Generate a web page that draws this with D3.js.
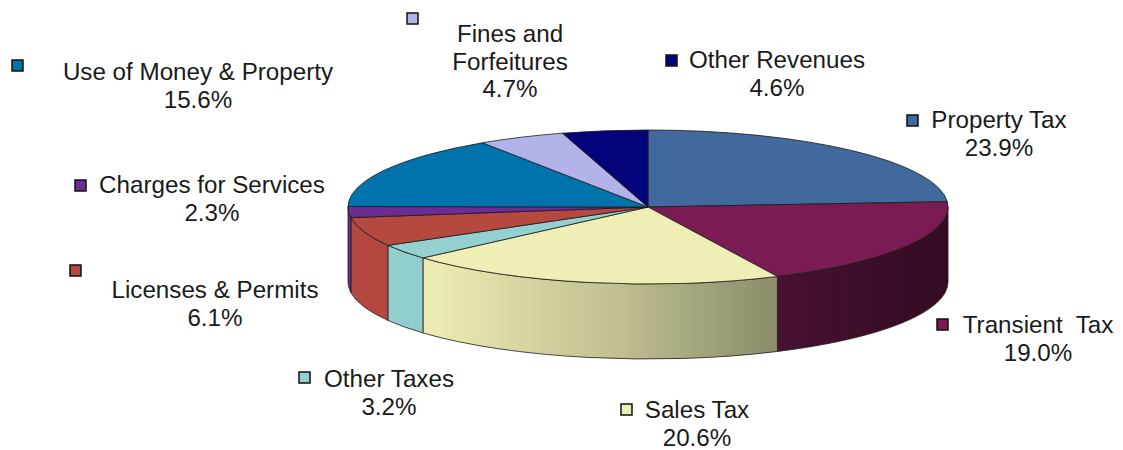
<!DOCTYPE html>
<html>
<head>
<meta charset="utf-8">
<script src="https://cdn.jsdelivr.net/npm/d3@7"></script>
<style>
  html, body { margin: 0; padding: 0; background: #ffffff; }
  svg { display: block; }
  text { font-family: "Liberation Sans", Arial, sans-serif; fill: #1a1a1a; }
</style>
</head>
<body>
<svg id="chart" width="1123" height="450"></svg>
<script>
// Revenue categories, clockwise from twelve o'clock
const categories = [
  "Property Tax", "Transient  Tax", "Sales Tax", "Other Taxes",
  "Licenses & Permits", "Charges for Services", "Use of Money & Property",
  "Fines and Forfeitures", "Other Revenues"
];
// Share of total revenue, percent
const shares = [23.9, 19.0, 20.6, 3.2, 6.1, 2.3, 15.6, 4.7, 4.6];
// Slice fill colours
const colors = [
  "#41699e", "#7b1b54", "#efefb5", "#94d0d0",
  "#b5483f", "#6b2c94", "#0072ac", "#b3b3e9", "#03037c"
];

// Label lines per category (the name may wrap) and label anchors
const labelLines = [
  ["Property Tax"], ["Transient  Tax"], ["Sales Tax"], ["Other Taxes"],
  ["Licenses & Permits"], ["Charges for Services"], ["Use of Money & Property"],
  ["Fines and", "Forfeitures"], ["Other Revenues"]
];
// cx: centre of text block, y: first baseline, key: [x, y] of legend key
const labelLayout = [
  { cx: 999,  y: 128, key: [907, 115] },
  { cx: 1038, y: 333, key: [937, 319] },
  { cx: 697,  y: 418, key: [621, 404] },
  { cx: 389,  y: 387, key: [299, 372] },
  { cx: 215,  y: 298, key: [70, 265] },
  { cx: 212,  y: 193, key: [75, 180] },
  { cx: 198,  y: 80,  key: [12, 60] },
  { cx: 510,  y: 42,  key: [407, 13] },
  { cx: 777,  y: 68,  key: [666, 55] }
];

const svg = d3.select("#chart");

// Pie geometry: flattened ellipse with a vertical rim
const cx = 648, cy = 207, rx = 300, ry = 77, depth = 75;

const data = categories.map((c, i) => ({ name: c, value: shares[i], color: colors[i], i }));
const arcs = d3.pie().sort(null).value(d => d.value).startAngle(0).endAngle(2 * Math.PI)(data);

const px = a => cx + rx * Math.sin(a);
const py = a => cy - ry * Math.cos(a);

// Rim shading: light on the left, darker towards the right
const defs = svg.append("defs");
const shadeStops = [[0, 1.0], [0.15, 0.98], [0.45, 0.8], [0.67, 0.62], [0.85, 0.5], [1, 0.42]];
arcs.forEach(a => {
  const base = d3.rgb(a.data.color);
  const g = defs.append("linearGradient")
    .attr("id", "rim" + a.index)
    .attr("gradientUnits", "userSpaceOnUse")
    .attr("x1", cx - rx).attr("x2", cx + rx).attr("y1", 0).attr("y2", 0);
  shadeStops.forEach(([o, f]) => {
    g.append("stop").attr("offset", o)
      .attr("stop-color", d3.rgb(base.r * f, base.g * f, base.b * f).formatHex());
  });
});

// Front rim faces (only the part between 90° and 270° faces the viewer)
const rimG = svg.append("g");
arcs.forEach(a => {
  const s = Math.max(a.startAngle, Math.PI / 2);
  const e = Math.min(a.endAngle, 3 * Math.PI / 2);
  if (e <= s) return;
  const large = (e - s) > Math.PI ? 1 : 0;
  const d = `M${px(s)},${py(s)}` +
    `A${rx},${ry} 0 ${large} 1 ${px(e)},${py(e)}` +
    `L${px(e)},${py(e) + depth}` +
    `A${rx},${ry} 0 ${large} 0 ${px(s)},${py(s) + depth}Z`;
  rimG.append("path")
    .attr("d", d)
    .attr("fill", `url(#rim${a.index})`)
    .attr("stroke", "#1c1c1c")
    .attr("stroke-width", 0.8)
    .attr("stroke-linejoin", "round");
});

// Top faces
const topG = svg.append("g");
arcs.forEach(a => {
  const s = a.startAngle, e = a.endAngle;
  const large = (e - s) > Math.PI ? 1 : 0;
  const d = `M${cx},${cy}L${px(s)},${py(s)}` +
    `A${rx},${ry} 0 ${large} 1 ${px(e)},${py(e)}Z`;
  topG.append("path")
    .attr("d", d)
    .attr("fill", a.data.color)
    .attr("stroke", "#1c1c1c")
    .attr("stroke-width", 0.8)
    .attr("stroke-linejoin", "round");
});

// Labels: legend key, category name and percentage
const fmt = d3.format(".1f");
const fontSize = 24.2, lineH = 27.5;
const labG = svg.append("g");
arcs.forEach(a => {
  const L = labelLayout[a.index];
  labG.append("rect")
    .attr("x", L.key[0]).attr("y", L.key[1])
    .attr("width", 11).attr("height", 11)
    .attr("fill", a.data.color)
    .attr("stroke", "#111")
    .attr("stroke-width", 1.5);
  const lines = labelLines[a.index].concat([fmt(a.data.value) + "%"]);
  const t = labG.append("text")
    .attr("text-anchor", "middle")
    .attr("font-size", fontSize)
    .style("white-space", "pre")
    .attr("xml:space", "preserve");
  lines.forEach((ln, k) => {
    t.append("tspan").attr("x", L.cx).attr("y", L.y + k * lineH).text(ln);
  });
});
</script>
</body>
</html>
